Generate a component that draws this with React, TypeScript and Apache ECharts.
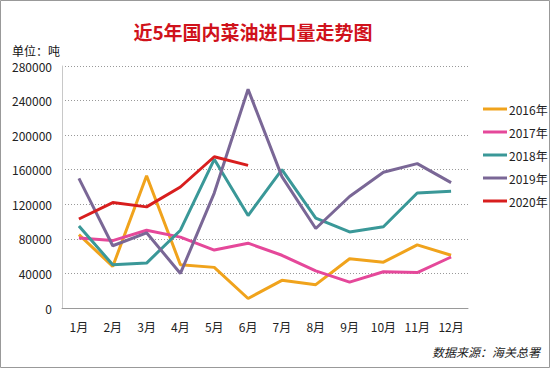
import React, { useEffect, useRef } from "react";
import * as echarts from "echarts";

const months = ["1月", "2月", "3月", "4月", "5月", "6月", "7月", "8月", "9月", "10月", "11月", "12月"];
const seriesNames = ["2016年", "2017年", "2018年", "2019年", "2020年"];
const v2016 = [85000, 48000, 153000, 50000, 47000, 11000, 32000, 27000, 57000, 53000, 73000, 61000];
const v2017 = [81000, 78000, 90000, 82000, 67000, 75000, 61000, 43000, 30000, 42000, 41000, 59000];
const v2018 = [95000, 50000, 52000, 90000, 172000, 107000, 160000, 104000, 88000, 94000, 133000, 135000];
const v2019 = [150000, 72000, 87000, 40000, 133000, 253000, 152000, 92000, 129000, 157000, 167000, 145000];
const v2020 = [103000, 122000, 117000, 140000, 175000, 165000];
const colors = ["#F0A31C", "#E5489A", "#3A9898", "#7A6796", "#D81E1E"];

const FONT = "'Noto Sans CJK SC', 'Noto Sans', sans-serif";

export default function App() {
  const ref = useRef<HTMLDivElement>(null);
  useEffect(() => {
    if (!ref.current) return;
    const chart = echarts.init(ref.current, null, { renderer: "svg" });
    const data = [v2016, v2017, v2018, v2019, v2020];
    chart.setOption({
      animation: false,
      backgroundColor: "#ffffff",
      textStyle: { fontFamily: FONT },
      title: {
        text: "近5年国内菜油进口量走势图",
        left: 248,
        top: 17,
        textAlign: "center",
        textStyle: { color: "#D0121B", fontSize: 19, fontWeight: "bold", fontFamily: FONT },
      },
      legend: {
        orient: "vertical",
        left: 478,
        top: 98,
        itemGap: 11,
        itemWidth: 24,
        itemHeight: 3,
        icon: "rect",
        textStyle: { fontSize: 12, color: "#222", fontFamily: FONT, padding: [0, 0, 0, -3] },
        data: seriesNames,
      },
      grid: { left: 62, right: 82, top: 66, bottom: 60, containLabel: false },
      xAxis: {
        type: "category",
        data: months,
        boundaryGap: true,
        axisLine: { lineStyle: { color: "#9a9a9a", width: 1 } },
        axisTick: { inside: true, length: 5, lineStyle: { color: "#9a9a9a" }, alignWithLabel: false },
        axisLabel: { color: "#222", fontSize: 12, margin: 12, fontFamily: FONT },
      },
      yAxis: {
        type: "value",
        min: 0,
        max: 280000,
        interval: 40000,
        axisLine: { show: true, lineStyle: { color: "#c8c8c8" } },
        axisTick: { show: false },
        axisLabel: {
          color: "#222",
          fontSize: 12,
          margin: 10,
          fontFamily: FONT,
          formatter: (v: number) => String(v),
        },
        splitLine: { lineStyle: { color: "#999", type: [1, 2], width: 1 } },
      },
      graphic: [
        {
          type: "rect",
          shape: { x: 0.5, y: 0.5, width: 549, height: 367 },
          style: { fill: "none", stroke: "#999", lineWidth: 1 },
          silent: true,
        },
        {
          type: "text",
          left: 12,
          top: 44,
          style: { text: "单位：吨", fontSize: 12, fill: "#111", fontFamily: FONT },
        },
        {
          type: "text",
          right: 10,
          top: 345,
          style: {
            text: "数据来源：海关总署",
            fontSize: 12,
            fill: "#222",
            fontStyle: "italic",
            fontFamily: FONT,
          },
        },
      ],
      series: seriesNames.map((name, i) => ({
        name,
        type: "line",
        data: data[i],
        symbol: "none",
        lineStyle: { width: 3, color: colors[i] },
        itemStyle: { color: colors[i] },
        z: i === 4 ? 10 : 2 + i,
      })),
    });
    return () => chart.dispose();
  }, []);
  return (
    <div
      ref={ref}
      style={{ position: "absolute", left: 0, top: 0, width: 550, height: 368 }}
    />
  );
}
